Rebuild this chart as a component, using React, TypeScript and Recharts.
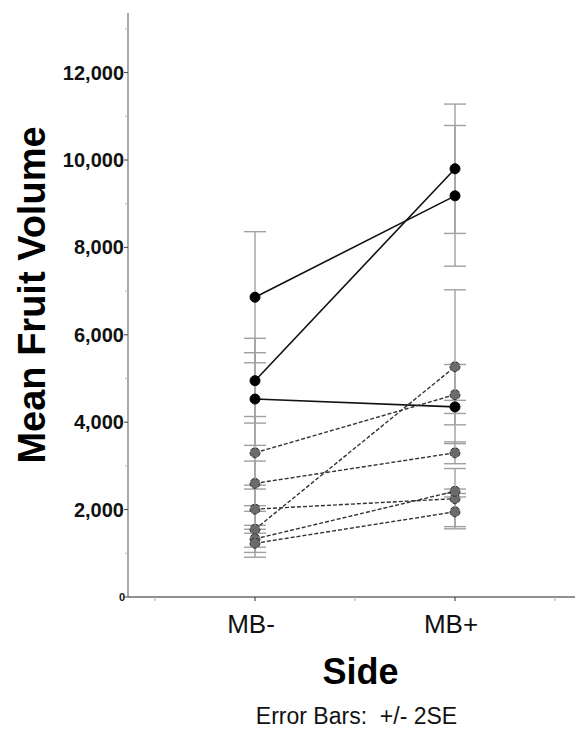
import React from 'react';
import { ComposedChart, Line, XAxis, YAxis, ErrorBar } from 'recharts';

// two sides of the fruit, plotted at x = 1 and x = 2
const sides = ['MB-', 'MB+'];
const sideX = [1, 2];

// one entry per tree: mean fruit volume on each side
const minusMeans = [6860, 4950, 4530, 3300, 2600, 2010, 1550, 1330, 1230];
const plusMeans = [9180, 9800, 4350, 4630, 3300, 2250, 5270, 2420, 1950];

// +/- 2SE half-lengths
const minusErr = [1500, 970, 1060, 830, 510, 550, 410, 310, 320];
const plusErr = [1610, 1480, 150, 690, 250, 690, 1760, 50, 340];

// first three trees drawn solid black, rest dashed grey
const solidCount = 3;

const xTicks = [0.5, 1, 1.5, 2, 2.5];
const yTicks = [0, 1000, 2000, 3000, 4000, 5000, 6000, 7000, 8000, 9000, 10000, 11000, 12000, 13000];

const font = '"Liberation Sans", Arial, sans-serif';

const pairs = minusMeans.map((m, i) => [
  { x: sideX[0], y: m, err: minusErr[i] },
  { x: sideX[1], y: plusMeans[i], err: plusErr[i] },
]);
const errData = pairs.flat();

const XTick = (props: any) => {
  const { x, y, payload } = props;
  const idx = sideX.indexOf(payload.value);
  return (
    <g>
      <line x1={x} x2={x} y1={y} y2={y + 4} stroke={idx >= 0 ? '#333' : '#aaa'} />
      {idx >= 0 && (
        <text x={x - 4} y={y + 36} textAnchor="middle" fontFamily={font} fontSize={26} fill="#111">
          {sides[idx]}
        </text>
      )}
    </g>
  );
};

const YTick = (props: any) => {
  const { x, y, payload } = props;
  const v = payload.value;
  const major = v % 2000 === 0;
  return (
    <g>
      <line x1={x - (major ? 4 : 3)} x2={x} y1={y} y2={y} stroke={major ? '#444' : '#bbb'} />
      {major && v > 0 && (
        <text x={x - 4} y={y + 7} textAnchor="end" fontFamily={font} fontWeight="bold" fontSize={20} fill="#111">
          {v.toLocaleString('en-US')}
        </text>
      )}
      {v === 0 && (
        <text x={x - 3} y={y + 4} textAnchor="end" fontFamily={font} fontWeight="bold" fontSize={11} fill="#111">
          0
        </text>
      )}
    </g>
  );
};

const YTitle = (props: any) => {
  const { viewBox } = props;
  const cx = viewBox.x + 32;
  const cy = viewBox.y + viewBox.height / 2 - 10;
  return (
    <text
      x={cx}
      y={cy}
      transform={`rotate(-90 ${cx} ${cy})`}
      textAnchor="middle"
      dominantBaseline="central"
      fontFamily={font}
      fontWeight="bold"
      fontSize={38}
      fill="#000"
    >
      Mean Fruit Volume
    </text>
  );
};

const XTitle = (props: any) => {
  const { viewBox } = props;
  const cx = viewBox.x + viewBox.width / 2;
  return (
    <g>
      <text x={cx + 9} y={viewBox.y + 87} textAnchor="middle" fontFamily={font} fontWeight="bold" fontSize={36} fill="#000">
        Side
      </text>
      <text
        x={cx + 5}
        y={viewBox.y + 127}
        textAnchor="middle"
        fontFamily={font}
        fontSize={23}
        fill="#111"
        style={{ whiteSpace: 'pre' }}
      >
        {'Error Bars:  +/- 2SE'}
      </text>
    </g>
  );
};

const App: React.FC = () => {
  return (
    <div style={{ position: 'absolute', left: 0, top: 0, width: 575, height: 731, background: '#fff' }}>
      <ComposedChart width={575} height={731} margin={{ top: 13, right: 0, bottom: 0, left: 0 }}>
        <XAxis
          type="number"
          dataKey="x"
          domain={[0.365, 2.6]}
          ticks={xTicks}
          interval={0}
          allowDataOverflow
          height={134}
          tickSize={0}
          tickMargin={0}
          tickLine={false}
          tick={<XTick />}
          axisLine={{ stroke: '#222' }}
          label={<XTitle />}
        />
        <YAxis
          type="number"
          domain={[0, 13364]}
          ticks={yTicks}
          interval={0}
          allowDataOverflow
          width={128}
          tickSize={0}
          tickMargin={0}
          tickLine={false}
          tick={<YTick />}
          axisLine={{ stroke: '#555' }}
          label={<YTitle />}
        />
        {/* invisible carrier so every error bar sits under the lines and dots */}
        <Line data={errData} dataKey="y" stroke="none" dot={false} activeDot={false} isAnimationActive={false}>
          <ErrorBar dataKey="err" direction="y" width={11} stroke="#a0a0a0" strokeWidth={1.4} />
        </Line>
        {pairs.map((d, i) => {
          const solid = i < solidCount;
          return (
            <Line
              key={i}
              data={d}
              dataKey="y"
              stroke={solid ? '#111' : '#333'}
              strokeWidth={solid ? 1.6 : 1.4}
              strokeDasharray={solid ? undefined : '4 2'}
              dot={{ r: 5, fill: solid ? '#000' : '#6b6b6b', stroke: solid ? '#000' : '#333', strokeWidth: 1 }}
              activeDot={false}
              isAnimationActive={false}
            />
          );
        })}
      </ComposedChart>
    </div>
  );
};

export default App;
